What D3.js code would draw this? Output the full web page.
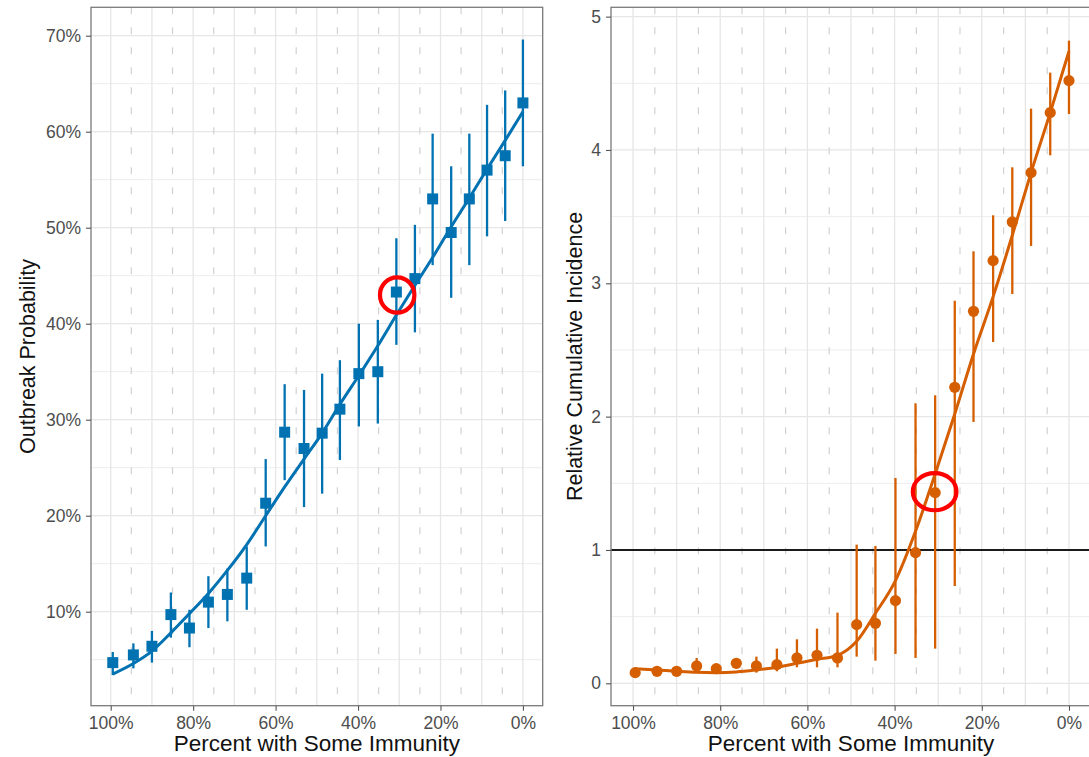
<!DOCTYPE html>
<html>
<head>
<meta charset="utf-8">
<script src="https://cdn.jsdelivr.net/npm/d3@7"></script>
<style>
  body { margin: 0; background: #fff; }
  text { font-family: "Liberation Sans", Arial, sans-serif; }
</style>
</head>
<body>
<svg id="chart" width="1089" height="757"></svg>
<script>
// percent with some immunity, same for both panels
const immunity = [99.5, 94.5, 90.0, 85.4, 80.9, 76.3, 71.7, 67.0, 62.4, 57.8, 53.1, 48.7, 44.4, 39.8, 35.2, 30.7, 26.2, 21.9, 17.4, 13.0, 8.7, 4.3, 0];

// left: outbreak probability (%)
const outbreak    = [4.7, 5.5, 6.4, 9.7, 8.3, 11.0, 11.8, 13.5, 21.3, 28.7, 27.0, 28.6, 31.1, 34.8, 35.0, 43.3, 44.7, 53.0, 49.5, 53.0, 56.0, 57.5, 63.0];
const outbreakLo  = [3.4, 4.1, 4.7, 7.3, 6.3, 8.3, 9.0, 10.2, 16.8, 23.7, 20.9, 22.3, 25.8, 29.3, 29.6, 37.8, 39.1, 46.1, 42.7, 46.1, 49.1, 50.7, 56.4];
const outbreakHi  = [5.8, 6.7, 8.0, 12.0, 10.2, 13.7, 14.5, 16.8, 25.9, 33.7, 33.1, 34.8, 36.2, 40.0, 40.4, 48.9, 50.3, 59.8, 56.4, 59.8, 62.8, 64.3, 69.6];
const outbreakFit = [3.5, 4.6, 5.9, 7.8, 9.8, 11.9, 14.3, 17.0, 20.0, 23.0, 25.9, 28.6, 31.6, 34.6, 37.7, 40.9, 44.0, 46.9, 50.1, 53.1, 56.1, 59.1, 62.1];

// right: relative cumulative incidence
const incidence    = [0.08, 0.09, 0.09, 0.13, 0.11, 0.15, 0.13, 0.14, 0.19, 0.21, 0.19, 0.44, 0.45, 0.62, 0.98, 1.43, 2.22, 2.79, 3.17, 3.46, 3.83, 4.28, 4.52];
const incidenceLo  = [0.06, 0.07, 0.06, 0.08, 0.08, 0.12, 0.08, 0.09, 0.12, 0.12, 0.12, 0.20, 0.17, 0.22, 0.19, 0.26, 0.73, 1.96, 2.56, 2.92, 3.28, 3.96, 4.27];
const incidenceHi  = [0.11, 0.12, 0.13, 0.19, 0.14, 0.18, 0.20, 0.26, 0.33, 0.41, 0.53, 1.04, 1.03, 1.54, 2.10, 2.16, 2.87, 3.24, 3.51, 3.87, 4.31, 4.58, 4.82];
const incidenceFit = [0.11, 0.10, 0.09, 0.082, 0.08, 0.085, 0.10, 0.12, 0.15, 0.18, 0.21, 0.315, 0.525, 0.77, 1.14, 1.57, 2.02, 2.47, 2.90, 3.36, 3.83, 4.28, 4.74];

const xTicks    = [100, 80, 60, 40, 20, 0];
const xMinor    = [90, 70, 50, 30, 10];
const xDashed   = [95, 85, 75, 65, 55, 45, 35, 25, 15, 5];
const leftTicks = [10, 20, 30, 40, 50, 60, 70];
const leftMinor = [5, 15, 25, 35, 45, 55, 65];
const rightTicks = [0, 1, 2, 3, 4, 5];
const rightMinor = [0.5, 1.5, 2.5, 3.5, 4.5];
const circled = 15;   // point ringed in red on both panels

const svg = d3.select("#chart");
const panelTop = 7.3, panelBottom = 705.7;

function drawPanel(o) {
  const x = d3.scaleLinear().domain(o.xDomain).range([o.left, o.right]);
  const y = d3.scaleLinear().domain(o.yDomain).range([panelBottom, panelTop]);
  const g = svg.append("g");

  // grid
  g.selectAll(".ymin").data(o.yMinor).join("line")
    .attr("x1", o.left).attr("x2", o.right)
    .attr("y1", d => y(d)).attr("y2", d => y(d))
    .attr("stroke", "#ededed").attr("stroke-width", 1);
  g.selectAll(".ymaj").data(o.yTicks).join("line")
    .attr("x1", o.left).attr("x2", o.right)
    .attr("y1", d => y(d)).attr("y2", d => y(d))
    .attr("stroke", "#e6e6e6").attr("stroke-width", 1.3);
  g.selectAll(".xmaj").data(xTicks.concat(xMinor)).join("line")
    .attr("x1", d => x(d)).attr("x2", d => x(d))
    .attr("y1", panelTop).attr("y2", panelBottom)
    .attr("stroke", "#e6e6e6").attr("stroke-width", 1.3);
  g.selectAll(".xdash").data(xDashed).join("line")
    .attr("x1", d => x(d)).attr("x2", d => x(d))
    .attr("y1", panelTop).attr("y2", panelBottom)
    .attr("stroke", "#d2d2d2").attr("stroke-width", 1.2)
    .attr("stroke-dasharray", "7,13");

  if (o.refLine !== undefined) {
    g.append("line")
      .attr("x1", o.left).attr("x2", o.right)
      .attr("y1", y(o.refLine)).attr("y2", y(o.refLine))
      .attr("stroke", "#1a1a1a").attr("stroke-width", 2);
  }

  // error bars
  g.selectAll(".bar").data(immunity).join("line")
    .attr("x1", d => x(d)).attr("x2", d => x(d))
    .attr("y1", (d, i) => y(o.lo[i])).attr("y2", (d, i) => y(o.hi[i]))
    .attr("stroke", o.color).attr("stroke-width", 2.3);

  // points
  if (o.square) {
    g.selectAll(".pt").data(immunity).join("rect")
      .attr("x", d => x(d) - 5.5).attr("y", (d, i) => y(o.values[i]) - 5.5)
      .attr("width", 11).attr("height", 11)
      .attr("fill", o.color);
  } else {
    g.selectAll(".pt").data(immunity).join("circle")
      .attr("cx", d => x(d)).attr("cy", (d, i) => y(o.values[i]))
      .attr("r", 5.6).attr("fill", o.color);
  }

  // fitted curve
  const line = d3.line()
    .x(d => x(d[0])).y(d => y(d[1]))
    .curve(d3.curveMonotoneX);
  g.append("path")
    .datum(immunity.map((d, i) => [d, o.fit[i]]))
    .attr("d", line)
    .attr("fill", "none").attr("stroke", o.color).attr("stroke-width", 3);

  // red ring
  g.append("ellipse")
    .attr("cx", x(immunity[circled]) + o.ring[2])
    .attr("cy", y(o.values[circled]) + o.ring[3])
    .attr("rx", o.ring[0]).attr("ry", o.ring[1])
    .attr("fill", "none").attr("stroke", "#ff0000").attr("stroke-width", 4.2);

  // border
  g.append("rect")
    .attr("x", o.left).attr("y", panelTop)
    .attr("width", o.right - o.left).attr("height", panelBottom - panelTop)
    .attr("fill", "none").attr("stroke", "#7a7a7a").attr("stroke-width", 1.3);

  // axes
  const ax = g.append("g").attr("transform", `translate(0,${panelBottom})`)
    .call(d3.axisBottom(x).tickValues(xTicks).tickSize(5).tickPadding(6)
      .tickFormat(d => d + "%"));
  const ay = g.append("g").attr("transform", `translate(${o.left},0)`)
    .call(d3.axisLeft(y).tickValues(o.yTicks).tickSize(5).tickPadding(5)
      .tickFormat(o.yFormat));
  [ax, ay].forEach(a => {
    a.select(".domain").remove();
    a.selectAll(".tick line").attr("stroke", "#555").attr("stroke-width", 1.1);
    a.selectAll(".tick text").attr("fill", "#4d4d4d")
      .style("font-size", "17.5px");
  });

  g.append("text")
    .attr("x", (o.left + o.right) / 2).attr("y", 751)
    .attr("text-anchor", "middle").style("font-size", "22.5px").attr("fill", "#111")
    .text("Percent with Some Immunity");
  g.append("text")
    .attr("transform", `translate(${o.titleX},${(panelTop + panelBottom) / 2}) rotate(-90)`)
    .attr("text-anchor", "middle").style("font-size", "21.5px").attr("fill", "#111")
    .text(o.yTitle);
}

drawPanel({
  left: 91, right: 542.7,
  xDomain: [104.78, -4.8], yDomain: [0.21, 72.96],
  yTicks: leftTicks, yMinor: leftMinor,
  yFormat: d => d + "%",
  values: outbreak, lo: outbreakLo, hi: outbreakHi, fit: outbreakFit,
  color: "#0072B2", square: true,
  ring: [17.2, 17.6, 0.8, 3],
  titleX: 34.5, yTitle: "Outbreak Probability"
});

drawPanel({
  left: 611, right: 1091,
  xDomain: [105.05, -5.05], yDomain: [-0.168, 5.07],
  yTicks: rightTicks, yMinor: rightMinor,
  yFormat: d => d,
  values: incidence, lo: incidenceLo, hi: incidenceHi, fit: incidenceFit,
  color: "#D55E00", square: false,
  refLine: 1,
  ring: [21.8, 18.6, -0.5, -1],
  titleX: 581.5, yTitle: "Relative Cumulative Incidence"
});
</script>
</body>
</html>
